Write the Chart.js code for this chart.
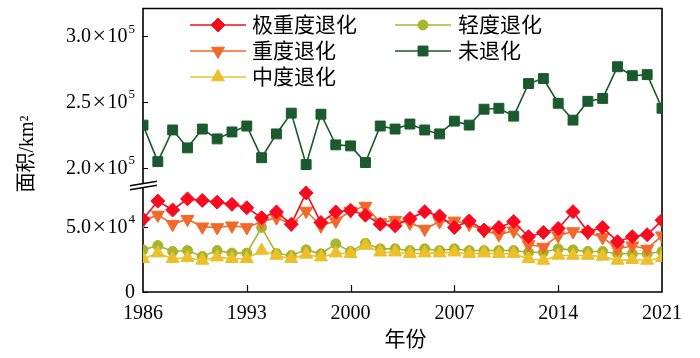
<!DOCTYPE html>
<html>
<head>
<meta charset="utf-8">
<script src="https://cdn.jsdelivr.net/npm/chart.js@4.4.1/dist/chart.umd.min.js"></script>
<style>
  html, body { margin: 0; padding: 0; background: #fff; }
</style>
</head>
<body>
<canvas id="c" width="700" height="358"></canvas>
<script>
// Years 1986-2021
const YEARS = [1986, 1987, 1988, 1989, 1990, 1991, 1992, 1993, 1994, 1995, 1996, 1997,
  1998, 1999, 2000, 2001, 2002, 2003, 2004, 2005, 2006, 2007, 2008, 2009,
  2010, 2011, 2012, 2013, 2014, 2015, 2016, 2017, 2018, 2019, 2020, 2021];

// Area in km2
const EXTREME = [55800, 69700, 62900, 71400, 70200, 68900, 67200, 64600, 57000, 61400, 52000, 76000,
  53300, 61400, 62700, 58900, 52000, 50800, 56400, 61600, 58300, 49500, 54500, 47500,
  49500, 54000, 42400, 45700, 48700, 61600, 46200, 49500, 38600, 42400, 43900, 55000];
const SEVERE = [54500, 59100, 52000, 55800, 50000, 49500, 50800, 49500, 53800, 57000, 52000, 62100,
  50800, 54500, 62100, 65900, 53300, 55100, 53000, 48300, 54000, 54500, 52000, 47000,
  44000, 47000, 36400, 34500, 43200, 46400, 45500, 41900, 33000, 35500, 33000, 43200];
const MODERATE = [25500, 29800, 25500, 26300, 24200, 26700, 25500, 25500, 31800, 28000, 25500, 28800,
  26700, 29800, 29300, 35600, 30500, 30500, 29300, 29800, 29800, 30500, 29300, 29800,
  29300, 29300, 25500, 24200, 28000, 28000, 28000, 27300, 24200, 24800, 24200, 26300];
const LIGHT = [32300, 35600, 31100, 31800, 27300, 31800, 29800, 29800, 49500, 29500, 28000, 32300,
  29300, 36900, 31100, 37300, 33100, 33100, 31800, 33100, 31800, 33100, 31800, 31800,
  31800, 31800, 30500, 30500, 33100, 32300, 31100, 31100, 29300, 29300, 29300, 31100];
const NONE = [232300, 204500, 228600, 215000, 229300, 221800, 227100, 231600, 207500, 225600, 241400, 202300,
  240600, 217300, 216500, 203800, 231600, 229300, 233100, 228600, 225600, 235300, 232300, 244400,
  245100, 239100, 263900, 267700, 248900, 236100, 250400, 252600, 276700, 269900, 270700, 245100];

// Tick values for the two parts of the broken axis
const TOP_TICKS = [200000, 250000, 300000];
const BOTTOM_TICKS = [0, 50000];
const X_TICK_STEP = 7;

const SERIF = '"Liberation Serif", "Times New Roman", "Noto Sans CJK SC", serif';

function pts(arr) {
  return YEARS.map(function (yr, i) { return { x: yr, y: arr[i] }; });
}

function series(label, arr, color, style, radius, axis, rotation) {
  return {
    label: label,
    data: pts(arr),
    yAxisID: axis,
    borderColor: color,
    backgroundColor: color,
    borderWidth: 1.6,
    pointStyle: style,
    pointRadius: radius,
    pointRotation: rotation || 0,
    pointBackgroundColor: color,
    pointBorderColor: color,
    pointBorderWidth: 1,
    tension: 0
  };
}

const datasets = [
  series('极重度退化', EXTREME, '#fa0a1e', 'rectRot', 7, 'yBot'),
  series('重度退化', SEVERE, '#f2692a', 'triangle', 7.5, 'yBot', 180),
  series('中度退化', MODERATE, '#ecc02a', 'triangle', 7.5, 'yBot'),
  series('轻度退化', LIGHT, '#a8b42c', 'circle', 5, 'yBot'),
  series('未退化', NONE, '#1a5a2c', 'rect', 7, 'yTop')
];

// legend slots: [dataset index, column, row]
const LEGEND_SLOTS = [[0, 0, 0], [1, 0, 1], [2, 0, 2], [3, 1, 0], [4, 1, 1]];

function sciParts(v) {
  if (v === 0) return { base: '0', exp: '' };
  const e = Math.floor(Math.log10(v));
  return { base: (v / Math.pow(10, e)).toFixed(1), exp: String(e) };
}

function drawMarker(ctx, ds, x, y) {
  ctx.fillStyle = ds.pointBackgroundColor;
  ctx.strokeStyle = ds.pointBorderColor;
  ctx.lineWidth = ds.pointBorderWidth;
  Chart.helpers.drawPoint(ctx, {
    pointStyle: ds.pointStyle,
    rotation: ds.pointRotation,
    radius: ds.pointRadius,
    borderWidth: ds.pointBorderWidth
  }, x, y);
}

const decor = {
  id: 'decor',
  beforeDatasetsDraw(chart) {
    const { ctx, chartArea: a, scales } = chart;
    const brk = scales.yTop.bottom;
    ctx.save();
    ctx.strokeStyle = '#000';
    ctx.lineWidth = 1.6;
    ctx.beginPath();
    ctx.moveTo(a.left, brk - 2);
    ctx.lineTo(a.left, a.top);
    ctx.lineTo(a.right, a.top);
    ctx.lineTo(a.right, a.bottom);
    ctx.lineTo(a.left, a.bottom);
    ctx.lineTo(a.left, brk + 2);
    ctx.stroke();

    // inward tick marks
    ctx.lineWidth = 1.2;
    ctx.beginPath();
    [scales.yTop, scales.yBot].forEach(function (s) {
      s.ticks.forEach(function (t) {
        const py = Math.round(s.getPixelForValue(t.value)) + 0.5;
        ctx.moveTo(a.left, py);
        ctx.lineTo(a.left + 5, py);
      });
    });
    scales.x.ticks.forEach(function (t) {
      const px = Math.round(scales.x.getPixelForValue(t.value)) + 0.5;
      if (px < a.left + 2 || px > a.right - 2) return;
      ctx.moveTo(px, a.bottom);
      ctx.lineTo(px, a.bottom - 7);
    });
    ctx.stroke();
    ctx.restore();
  },
  afterDraw(chart) {
    const { ctx, chartArea: a, scales } = chart;
    const brk = scales.yTop.bottom;
    ctx.save();

    // break marks
    ctx.strokeStyle = '#000';
    ctx.lineWidth = 1.6;
    ctx.beginPath();
    ctx.moveTo(a.left - 13, brk + 0.5); ctx.lineTo(a.left + 14, brk - 4);
    ctx.moveTo(a.left - 13, brk + 4.5); ctx.lineTo(a.left + 14, brk);
    ctx.stroke();

    // y tick labels with superscript exponent
    ctx.fillStyle = '#000';
    ctx.textBaseline = 'middle';
    ctx.textAlign = 'left';
    [scales.yTop, scales.yBot].forEach(function (s) {
      s.ticks.forEach(function (t) {
        const py = s.getPixelForValue(t.value);
        const p = sciParts(t.value);
        ctx.font = '20px ' + SERIF;
        if (!p.exp) {
          const w0 = ctx.measureText(p.base).width;
          ctx.fillText(p.base, 135 - w0, py + 1);
          return;
        }
        const wBase = ctx.measureText(p.base).width;
        const wTen = ctx.measureText('10').width;
        ctx.font = '24px ' + SERIF;
        const wX = ctx.measureText('×').width + 3;
        ctx.font = '13px ' + SERIF;
        const wE = ctx.measureText(p.exp).width;
        let x = 135 - (wBase + wX + wTen + wE + 1);
        ctx.font = '20px ' + SERIF;
        ctx.fillText(p.base, x, py + 1); x += wBase + 1.5;
        ctx.font = '24px ' + SERIF;
        ctx.fillText('×', x, py + 1); x += wX - 1.5;
        ctx.font = '20px ' + SERIF;
        ctx.fillText('10', x, py + 1); x += wTen + 1;
        ctx.font = '13px ' + SERIF;
        ctx.fillText(p.exp, x, py - 7);
      });
    });

    // x tick labels
    ctx.font = '20px ' + SERIF;
    ctx.textAlign = 'center';
    scales.x.ticks.forEach(function (t) {
      ctx.fillText(String(t.value), scales.x.getPixelForValue(t.value), 314);
    });

    // axis titles
    ctx.font = '21px ' + SERIF;
    ctx.fillText('年份', (a.left + a.right) / 2 + 3, 340);
    ctx.save();
    ctx.translate(28, 154);
    ctx.rotate(-Math.PI / 2);
    ctx.font = '20px ' + SERIF;
    ctx.fillText('面积/km²', 0, 0);
    ctx.restore();

    // legend
    const colLine = [190, 395];
    const colText = [252, 458];
    const rowY = [25, 51, 77];
    ctx.textAlign = 'left';
    ctx.font = '21px ' + SERIF;
    LEGEND_SLOTS.forEach(function (slot) {
      const ds = chart.data.datasets[slot[0]];
      const x0 = colLine[slot[1]];
      const y = rowY[slot[2]];
      ctx.strokeStyle = ds.borderColor;
      ctx.lineWidth = ds.borderWidth;
      ctx.beginPath();
      ctx.moveTo(x0, y); ctx.lineTo(x0 + 56, y);
      ctx.stroke();
      drawMarker(ctx, ds, x0 + 28, y);
      ctx.fillStyle = '#000';
      ctx.fillText(ds.label, colText[slot[1]], y + 1);
    });
    ctx.restore();
  }
};

const hidden = {
  ticks: { display: false },
  grid: { display: false, drawTicks: false },
  border: { display: false }
};

new Chart(document.getElementById('c'), {
  type: 'line',
  data: { datasets: datasets },
  options: {
    responsive: false,
    devicePixelRatio: 1,
    animation: false,
    events: [],
    layout: { padding: { left: 143, right: 38, top: 5, bottom: 66 } },
    plugins: { legend: { display: false }, tooltip: { enabled: false } },
    scales: {
      x: Object.assign({ type: 'linear', min: 1986, max: 2021,
        afterBuildTicks: function (s) {
          const t = [];
          for (let v = 1986; v <= 2021; v += X_TICK_STEP) t.push({ value: v });
          s.ticks = t;
        } }, hidden),
      // left-side stacked axes are placed in reverse order: last one ends up on top
      yBot: Object.assign({ type: 'linear', position: 'left', stack: 'v', stackWeight: 108,
        min: 0, max: 81800,
        afterBuildTicks: function (s) { s.ticks = BOTTOM_TICKS.map(function (v) { return { value: v }; }); } }, hidden),
      yTop: Object.assign({ type: 'linear', position: 'left', stack: 'v', stackWeight: 179,
        min: 186500, max: 321000,
        afterBuildTicks: function (s) { s.ticks = TOP_TICKS.map(function (v) { return { value: v }; }); } }, hidden)
    }
  },
  plugins: [decor]
});
</script>
</body>
</html>
